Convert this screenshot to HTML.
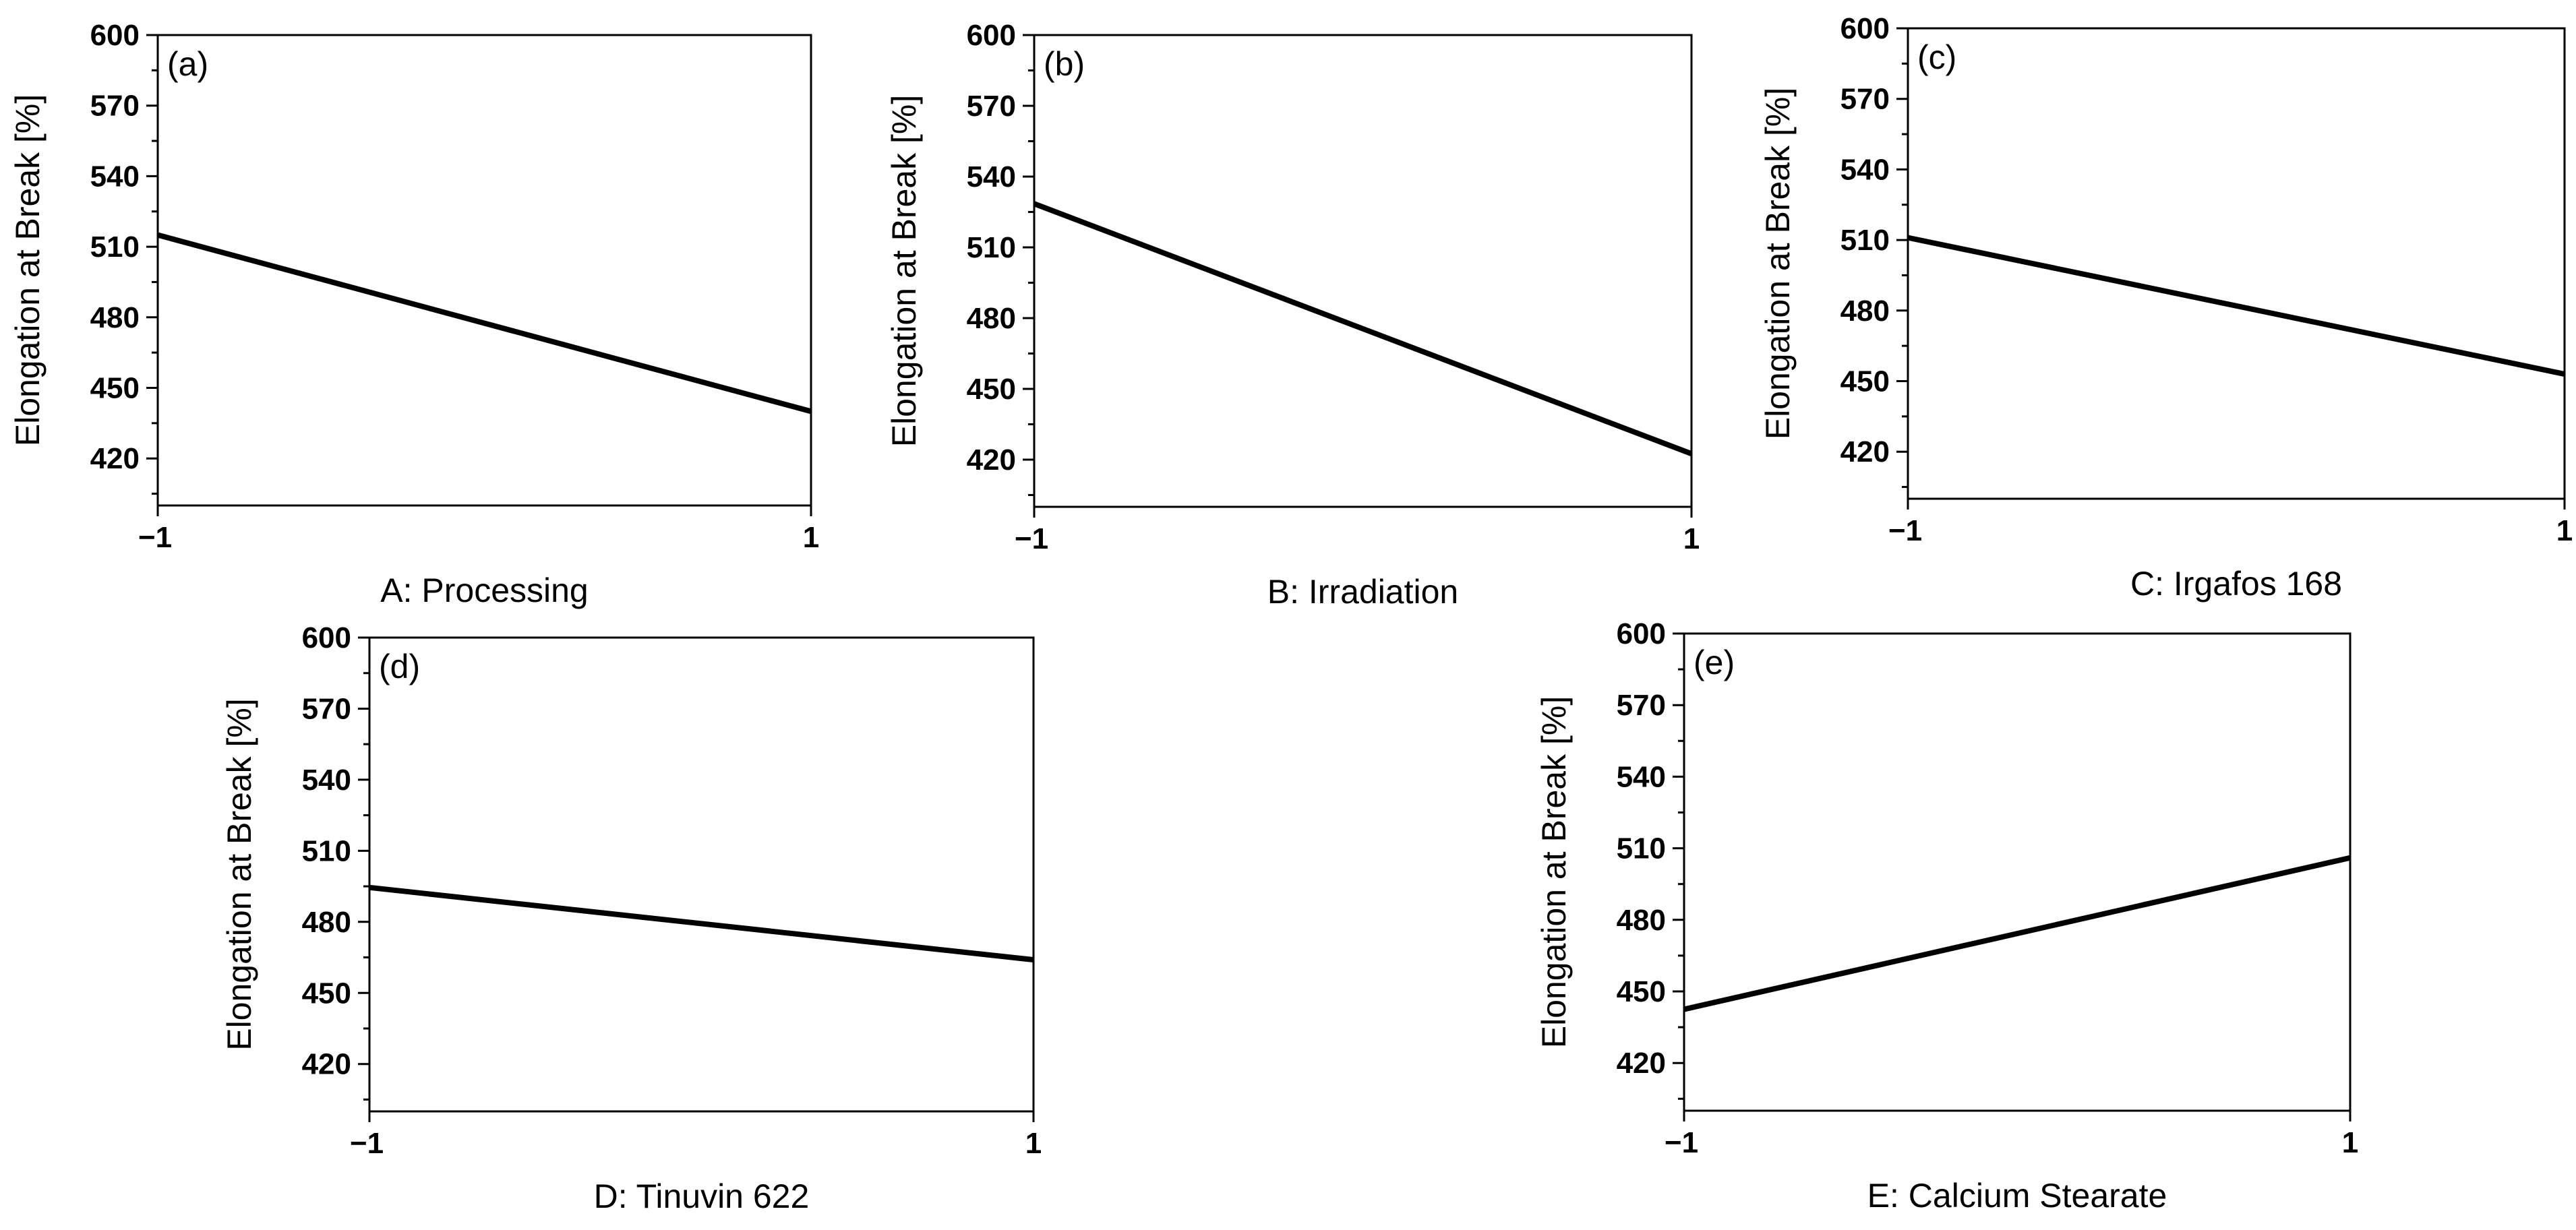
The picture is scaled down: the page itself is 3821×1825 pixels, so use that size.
<!DOCTYPE html>
<html><head><meta charset="utf-8"><style>
html,body{margin:0;padding:0;background:#fff;}
svg{display:block;}
text{font-family:"Liberation Sans",Arial,sans-serif;fill:#000;}
.tick{font-weight:bold;font-size:44px;}
.title{font-size:50px;}
</style></head><body>
<svg id="chart" width="3821" height="1825" viewBox="0 0 3821 1825" xmlns="http://www.w3.org/2000/svg"></svg>
<script>
const panelLetters = ["a","b","c","d","e"];
const xTitles = ["A: Processing","B: Irradiation","C: Irgafos 168","D: Tinuvin 622","E: Calcium Stearate"];
const valuesAtLow = [515, 528.5, 511, 494.5, 442.5];
const valuesAtHigh = [440, 422.5, 453, 464, 506];
const xLevels = [-1, 1];
const xTickLabels = ["\u22121", "1"];
const yTicks = [420, 450, 480, 510, 540, 570, 600];
const yMinorTicks = [405, 435, 465, 495, 525, 555, 585];
const yMin = 400, yMax = 600;

const layout = [
  {l:234, r:1203, t:52, b:750},
  {l:1534, r:2509, t:52, b:752},
  {l:2830, r:3804, t:42, b:740},
  {l:548, r:1533, t:946, b:1649},
  {l:2498, r:3486, t:940, b:1648}
];
const NS = "http://www.w3.org/2000/svg";
const svg = document.getElementById("chart");
function mk(tag, attrs, parent){
  const e = document.createElementNS(NS, tag);
  for (const k in attrs) e.setAttribute(k, attrs[k]);
  parent.appendChild(e);
  return e;
}
layout.forEach((p, i) => {
  const sx = v => p.l + (v - xLevels[0]) / (xLevels[1] - xLevels[0]) * (p.r - p.l);
  const sy = v => p.b - (v - yMin) / (yMax - yMin) * (p.b - p.t);
  const g = mk("g", {}, svg);
  
  
  const frame = mk("rect", {x:p.l, y:p.t, width:p.r-p.l, height:p.b-p.t, fill:"none", stroke:"#000", "stroke-width":3}, g);
  
  
  yTicks.forEach(v => {
    const y = sy(v);
    const t = mk("line", {x1:p.l-17, x2:p.l, y1:y, y2:y, stroke:"#000", "stroke-width":3}, g);
    
    
    const lb = mk("text", {x:p.l-27, y:y+15, "text-anchor":"end", class:"tick"}, g);
    lb.textContent = v;
    
    
  });
  yMinorTicks.forEach(v => {
    const y = sy(v);
    const t = mk("line", {x1:p.l-9, x2:p.l, y1:y, y2:y, stroke:"#000", "stroke-width":3}, g);
    
    
  });
  xLevels.forEach((v, k) => {
    const x = sx(v);
    const t = mk("line", {x1:x, x2:x, y1:p.b, y2:p.b+16, stroke:"#000", "stroke-width":3}, g);
    
    
    const lb = mk("text", {x:x-(k===0?4:0), y:p.b+62, "text-anchor":"middle", class:"tick"}, g);
    lb.textContent = xTickLabels[k];
    
    
  });
  const ln = mk("line", {x1:sx(xLevels[0]), y1:sy(valuesAtLow[i]), x2:sx(xLevels[1]), y2:sy(valuesAtHigh[i]), stroke:"#000", "stroke-width":8}, g);
  
  
  const pl = mk("text", {x:p.l+14, y:p.t+60, class:"title"}, g);
  pl.textContent = "(" + panelLetters[i] + ")";
  
  
  const xt = mk("text", {x:(p.l+p.r)/2, y:p.b+143, "text-anchor":"middle", class:"title"}, g);
  xt.textContent = xTitles[i];
  
  
  const cy = (p.t+p.b)/2;
  const cx = p.l - 176;
  const yt = mk("text", {x:cx, y:cy, "text-anchor":"middle", class:"title", transform:"rotate(-90 "+cx+" "+cy+")"}, g);
  yt.textContent = "Elongation at Break [%]";
  
  
});
</script>
</body></html>
